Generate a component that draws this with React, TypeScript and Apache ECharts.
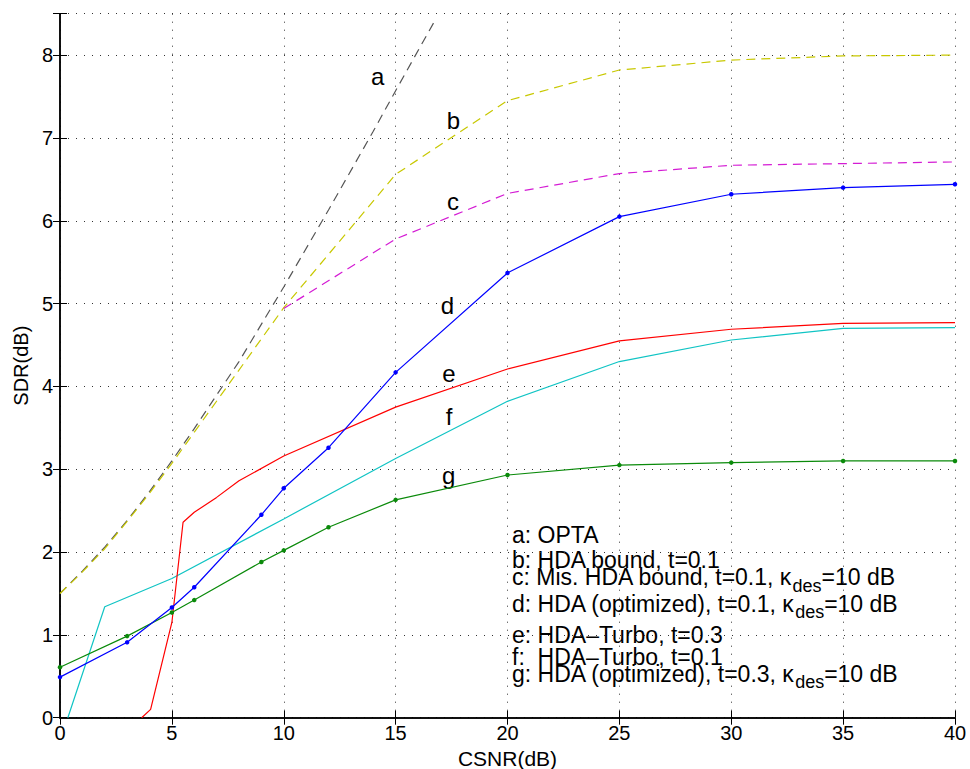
import React, { useEffect, useRef } from "react";
import * as echarts from "echarts";

// ---- data ----
const aX = [0, 1, 2, 3, 4, 5, 6, 8, 10, 12, 14, 15, 16.7];
const aY = [1.5, 1.77, 2.06, 2.38, 2.73, 3.1, 3.49, 4.3, 5.2, 6.13, 7.08, 7.57, 8.39];

const bX = [0, 1, 2, 3, 4, 5, 10, 15, 20, 25, 30, 35, 40];
const bY = [1.5, 1.76, 2.04, 2.37, 2.71, 3.07, 4.95, 6.56, 7.45, 7.82, 7.94, 7.99, 8.0];

const cX = [10, 15, 20, 25, 30, 35, 40];
const cY = [4.94, 5.78, 6.33, 6.57, 6.67, 6.69, 6.71];

const dX = [0, 3, 5, 6, 9, 10, 12, 15, 20, 25, 30, 35, 40];
const dY = [0.49, 0.91, 1.33, 1.575, 2.45, 2.77, 3.26, 4.17, 5.37, 6.05, 6.32, 6.4, 6.44];

const eX = [3.65, 4.05, 5, 5.5, 6, 7, 8, 10, 15, 20, 25, 30, 35, 40];
const eY = [0, 0.1, 1.15, 2.36, 2.48, 2.66, 2.86, 3.16, 3.75, 4.21, 4.55, 4.69, 4.76, 4.77];

const fX = [0.35, 2, 5, 10, 15, 20, 25, 30, 35, 40];
const fY = [0, 1.34, 1.68, 2.4, 3.13, 3.82, 4.3, 4.56, 4.7, 4.71];

const gX = [0, 3, 5, 6, 9, 10, 12, 15, 20, 25, 30, 35, 40];
const gY = [0.61, 0.985, 1.27, 1.42, 1.88, 2.02, 2.3, 2.63, 2.93, 3.05, 3.08, 3.1, 3.1];

const curveLetters = ["a", "b", "c", "d", "e", "f", "g"];
const legendParts: string[][] = [
  ["a: OPTA"],
  ["b: HDA bound, t=0.1"],
  ["c: Mis. HDA bound, t=0.1, κ", "des", "=10 dB"],
  ["d: HDA (optimized), t=0.1, κ", "des", "=10 dB"],
  ["e: HDA–Turbo, t=0.3"],
  ["f:  HDA–Turbo, t=0.1"],
  ["g: HDA (optimized), t=0.3, κ", "des", "=10 dB"],
];

const FONT = "'Liberation Sans', Arial, Helvetica, sans-serif";

function pairs(xs: number[], ys: number[]) {
  return xs.map((x, i) => [x, ys[i]]);
}

export default function App() {
  const ref = useRef<HTMLDivElement>(null);

  useEffect(() => {
    if (!ref.current) return;
    const chart = echarts.init(ref.current, undefined, { renderer: "svg" });

    const gridLeft = 60;
    const gridTop = 13.7;
    const gridRight = 15;
    const gridBottom = 51.3;

    const baseX = {
      type: "value" as const,
      min: 0,
      max: 40,
      interval: 5,
    };
    const baseY = {
      type: "value" as const,
      min: 0,
      max: 8.5,
      interval: 1,
    };
    const axisLine = { show: true, lineStyle: { color: "#000", width: 1.5 } };
    const axisTick = { show: true, inside: true, length: 7, lineStyle: { color: "#000", width: 1 } };
    const gridLine = { show: true, lineStyle: { color: "#333", type: [1, 7], width: 1 } };

    const line = (
      name: string,
      xs: number[],
      ys: number[],
      color: string,
      dashed: boolean,
      markers: boolean
    ) => ({
      name,
      type: "line" as const,
      data: pairs(xs, ys),
      showSymbol: markers,
      symbol: "circle",
      symbolSize: 4.5,
      itemStyle: { color },
      lineStyle: { color, width: 1.2, type: dashed ? [9, 6] : "solid" },
      clip: true,
      silent: true,
    });

    // labels next to curves: [x, y] pixel centers
    const letterPos = [
      [377.7, 76.5],
      [453.3, 120],
      [453, 201.6],
      [447.5, 305],
      [449, 373.3],
      [449, 416.6],
      [448.7, 475.6],
    ];

    // legend baselines
    const legendBaselines = [539.3, 565, 581.7, 608.3, 640, 661.7, 678.3];
    const legendLeft = 512;
    const mainSize = 23;
    const subSize = 18;
    const mainLH = 16;
    const baselineOffset = mainLH / 2 + 0.35 * mainSize;

    const graphics: any[] = [];
    curveLetters.forEach((t, i) => {
      graphics.push({
        type: "text",
        x: letterPos[i][0],
        y: letterPos[i][1],
        silent: true,
        style: {
          text: t,
          fontSize: 24,
          fontFamily: FONT,
          fill: "#000",
          textAlign: "center",
          align: "center",
          textVerticalAlign: "middle",
          verticalAlign: "middle",
        },
      });
    });

    legendParts.forEach((parts, i) => {
      const top = legendBaselines[i] - baselineOffset;
      let text = "";
      if (parts.length === 1) {
        text = `{t|${parts[0]}}`;
      } else {
        text = `{t|${parts[0]}}{s|${parts[1]}}{t|${parts[2]}}`;
      }
      graphics.push({
        type: "text",
        x: legendLeft,
        y: top,
        silent: true,
        style: {
          text,
          fontFamily: FONT,
          fill: "#000",
          textAlign: "left",
          align: "left",
          textVerticalAlign: "top",
          verticalAlign: "top",
          rich: {
            t: {
              fontSize: mainSize,
              lineHeight: mainLH,
              fontFamily: FONT,
              fill: "#000",
              color: "#000",
              verticalAlign: "top",
            },
            s: {
              fontSize: subSize,
              lineHeight: 13,
              fontFamily: FONT,
              fill: "#000",
              color: "#000",
              verticalAlign: "top",
              padding: [11, 0, 0, 0],
            },
          },
        },
      });
    });

    chart.setOption({
      animation: false,
      backgroundColor: "#fff",
      grid: {
        left: gridLeft,
        top: gridTop,
        right: gridRight,
        bottom: gridBottom,
        containLabel: false,
        outerBoundsMode: "none",
      },
      xAxis: [
        {
          ...baseX,
          position: "bottom",
          axisLine,
          axisTick,
          axisLabel: { fontSize: 20, color: "#000", margin: 5, fontFamily: FONT },
          splitLine: gridLine,
          name: "CSNR(dB)",
          nameLocation: "middle",
          nameGap: 30,
          nameTextStyle: { fontSize: 21, color: "#000", fontFamily: FONT },
        },
        {
          ...baseX,
          position: "top",
          axisLine,
          axisTick,
          axisLabel: { show: false },
          splitLine: { show: false },
        },
      ],
      yAxis: [
        {
          ...baseY,
          position: "left",
          axisLine,
          axisTick,
          axisLabel: {
            fontSize: 20,
            color: "#000",
            margin: 7,
            fontFamily: FONT,
            formatter: (v: number) => (v > 8 ? "" : String(v)),
          },
          splitLine: gridLine,
          name: "SDR(dB)",
          nameLocation: "middle",
          nameGap: 28,
          nameTextStyle: { fontSize: 20, color: "#000", fontFamily: FONT },
        },
        {
          ...baseY,
          position: "right",
          axisLine,
          axisTick,
          axisLabel: { show: false },
          splitLine: { show: false },
        },
      ],
      series: [
        line("a", aX, aY, "#555555", true, false),
        line("b", bX, bY, "#c8c800", true, false),
        line("c", cX, cY, "#d41cd4", true, false),
        line("f", fX, fY, "#10c4c4", false, false),
        line("e", eX, eY, "#ff0000", false, false),
        line("g", gX, gY, "#0a8a0a", false, true),
        line("d", dX, dY, "#0000ff", false, true),
      ],
      graphic: graphics,
    });

    return () => {
      chart.dispose();
    };
  }, []);

  return (
    <div
      ref={ref}
      style={{ position: "fixed", left: 0, top: 0, width: 970, height: 769, background: "#fff" }}
    />
  );
}
